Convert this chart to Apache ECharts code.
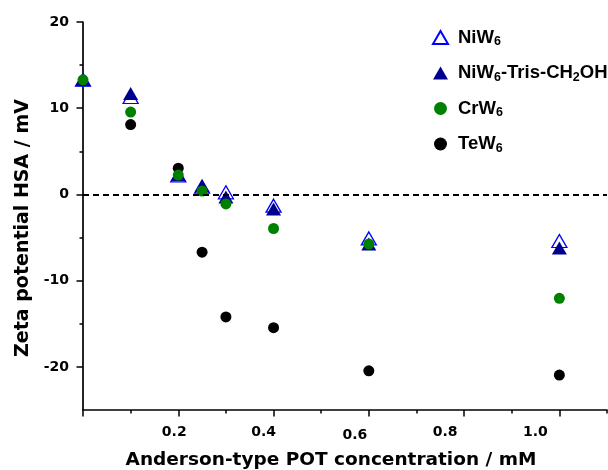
<!DOCTYPE html>
<html>
<head>
<meta charset="utf-8">
<script src="https://cdn.jsdelivr.net/npm/echarts@6/dist/echarts.min.js"></script>
<style>html,body{margin:0;padding:0;background:#fff}#c{width:608px;height:470px}</style>
</head>
<body>
<div id="c"></div>
<script>
// concentrations (mM)
const xVals = [0, 0.1, 0.2, 0.25, 0.3, 0.4, 0.6, 1.0];
// zeta potential (mV)
const niw6     = [13.3, 11.3, 2.2, 0.9, 0.25, -1.3, -5.1, -5.4];
const niw6Tris = [13.3, 11.7, 2.3, 1.0, -0.3, -1.7, -5.75, -6.2];
const crw6     = [13.3, 9.55, 2.25, 0.4, -1.1, -3.95, -5.75, -12.05];
const tew6     = [null, 8.1, 3.05, -6.7, -14.2, -15.45, -20.45, -20.95];
// tick labels
const xMajorTicks = [0, 0.2, 0.4, 0.6, 0.8, 1.0];
const xLabelTicks = [0.2, 0.4, 0.6, 0.8, 1.0];
const xMinorTicks = [0.1, 0.3, 0.5, 0.7, 0.9, 1.1];
const yMajorTicks = [-20, -10, 0, 10, 20];
const yMinorTicks = [-15, -5, 5, 15];

const FONT = 'DejaVu Sans';
const LFONT = 'Liberation Sans';
const pair = (ys) => xVals.map((x, i) => [x, ys[i]]).filter(p => p[1] !== null);

// label horizontal shifts as seen in the figure
const xLabelShift = {'0.2': 4, '0.4': 10, '0.6': 14, '0.8': 19, '1': 24};
const xRich = {};
Object.keys(xLabelShift).forEach((k, i) => {
  xRich['l' + i] = {fontFamily: FONT, fontWeight: 'bold', fontSize: 14, color: '#000',
    padding: [k === '0.6' ? 3 : 0, xLabelShift[k] * 2, 0, 0]};
});

const legendFmt = {
  'NiW6': '{m|NiW}{s|6}',
  'NiW6-Tris-CH2OH': '{m|NiW}{s|6}{m|-Tris-CH}{s|2}{m|OH}',
  'CrW6': '{m|CrW}{s|6}',
  'TeW6': '{m|TeW}{s|6}'
};

const chart = echarts.init(document.getElementById('c'), null, {renderer: 'canvas'});
chart.setOption({
  backgroundColor: '#fff',
  animation: false,
  grid: {left: 83, right: 1, top: 22, bottom: 60, containLabel: false, outerBoundsMode: 'none'},
  legend: {
    orient: 'vertical',
    left: 427, top: 23,
    itemWidth: 15, itemHeight: 13, itemGap: 15,
    data: ['NiW6', 'NiW6-Tris-CH2OH', 'CrW6', 'TeW6'],
    formatter: (n) => legendFmt[n],
    textStyle: {
      padding: [0, 0, 0, 5],
      rich: {
        m: {fontFamily: LFONT, fontWeight: 'bold', fontSize: 18.5, lineHeight: 22, color: '#000'},
        s: {fontFamily: LFONT, fontWeight: 'bold', fontSize: 12.5, lineHeight: 5, verticalAlign: 'bottom', color: '#000'}
      }
    }
  },
  xAxis: [{
    type: 'value', min: 0, max: 1.1,
    name: 'Anderson-type POT concentration / mM',
    nameLocation: 'middle', nameGap: 41,
    nameTextStyle: {fontFamily: FONT, fontWeight: 'bold', fontSize: 18.5, color: '#000', padding: [0, 28, 0, 0]},
    axisLine: {onZero: false, lineStyle: {color: '#000', width: 1.7}},
    axisTick: {show: true, length: 6.5, customValues: xMajorTicks, lineStyle: {color: '#000', width: 1.5}},
    axisLabel: {
      margin: 15, customValues: xLabelTicks,
      formatter: (v) => {
        const key = String(+v.toFixed(1));
        const idx = Object.keys(xLabelShift).indexOf(key);
        return '{l' + idx + '|' + v.toFixed(1) + '}';
      },
      rich: xRich
    },
    splitLine: {show: false}
  }, {
    type: 'value', min: 0, max: 1.1, position: 'bottom', offset: 0,
    axisLine: {show: false, onZero: false},
    axisTick: {show: true, length: 3.5, customValues: xMinorTicks, lineStyle: {color: '#000', width: 1.5}},
    axisLabel: {show: false},
    splitLine: {show: false}
  }],
  yAxis: [{
    type: 'value', min: -25, max: 20,
    name: 'Zeta potential HSA / mV',
    nameLocation: 'middle', nameGap: 50,
    nameTextStyle: {fontFamily: FONT, fontWeight: 'bold', fontSize: 19, color: '#000', padding: [0, 24, 0, 0]},
    axisLine: {show: true, onZero: false, lineStyle: {color: '#000', width: 1.7}},
    axisTick: {show: true, length: 6.5, customValues: yMajorTicks, lineStyle: {color: '#000', width: 1.5}},
    axisLabel: {margin: 14, customValues: yMajorTicks, fontFamily: FONT, fontWeight: 'bold', fontSize: 14, color: '#000'},
    splitLine: {show: false}
  }, {
    type: 'value', min: -25, max: 20, position: 'left', offset: 0,
    axisLine: {show: false, onZero: false},
    axisTick: {show: true, length: 3.5, customValues: yMinorTicks, lineStyle: {color: '#000', width: 1.5}},
    axisLabel: {show: false},
    splitLine: {show: false}
  }],
  series: [
    {
      name: 'NiW6', type: 'scatter', data: pair(niw6),
      symbol: 'triangle', symbolSize: [15, 13],
      itemStyle: {color: '#fff', borderColor: '#0000ff', borderWidth: 1.3, opacity: 1},
      markLine: {
        silent: true, symbol: 'none', label: {show: false},
        lineStyle: {color: '#000', type: [6, 4], width: 1.8, opacity: 1},
        data: [{yAxis: 0}]
      }
    },
    {
      name: 'NiW6-Tris-CH2OH', type: 'scatter', data: pair(niw6Tris),
      symbol: 'triangle', symbolSize: [15, 13],
      itemStyle: {color: '#00008f', opacity: 1}
    },
    {
      name: 'TeW6', type: 'scatter', data: pair(tew6),
      symbol: 'circle', symbolSize: 11,
      itemStyle: {color: '#000', opacity: 1}
    },
    {
      name: 'CrW6', type: 'scatter', data: pair(crw6),
      symbol: 'circle', symbolSize: 11,
      itemStyle: {color: '#008000', opacity: 1}
    }
  ]
});
</script>
</body>
</html>
